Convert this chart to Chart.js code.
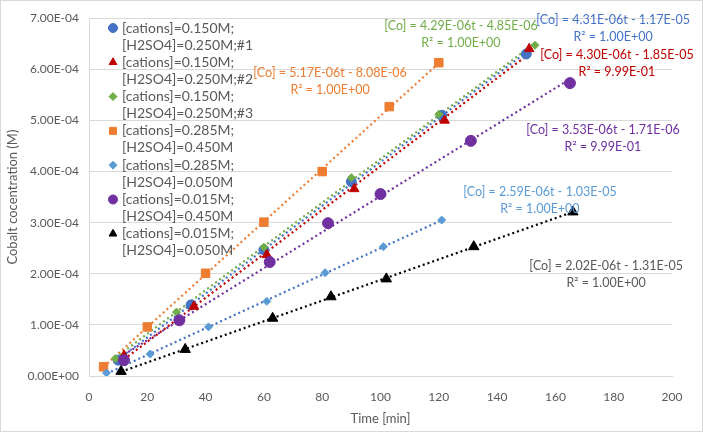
<!DOCTYPE html>
<html>
<head>
<meta charset="utf-8">
<script src="https://cdn.jsdelivr.net/npm/chart.js@4.4.1/dist/chart.umd.min.js"></script>
<style>
  html, body { margin: 0; padding: 0; background: #fff; }
  #wrap { width: 701px; height: 430px; border: 1px solid #d9d9d9; }
</style>
</head>
<body>
<div id="wrap"><canvas id="cobaltChart" width="701" height="430"></canvas></div>
<script>
// series names (two lines each, as in the legend)
var seriesNames = [
  ["[cations]=0.150M;", "[H2SO4]=0.250M;#1"],
  ["[cations]=0.150M;", "[H2SO4]=0.250M;#2"],
  ["[cations]=0.150M;", "[H2SO4]=0.250M;#3"],
  ["[cations]=0.285M;", "[H2SO4]=0.450M"],
  ["[cations]=0.285M;", "[H2SO4]=0.050M"],
  ["[cations]=0.015M;", "[H2SO4]=0.450M"],
  ["[cations]=0.015M;", "[H2SO4]=0.050M"]
];

// time [min] and cobalt concentration [M] for each run
var t1 = [10, 35, 60, 90, 121, 150];
var c1 = [3.1e-5, 1.39e-4, 2.47e-4, 3.80e-4, 5.10e-4, 6.30e-4];
var t2 = [12, 36, 61, 91, 122, 151];
var c2 = [4.0e-5, 1.36e-4, 2.37e-4, 3.66e-4, 5.00e-4, 6.40e-4];
var t3 = [9, 30, 60, 90, 120, 153];
var c3 = [3.4e-5, 1.25e-4, 2.52e-4, 3.88e-4, 5.12e-4, 6.47e-4];
var t4 = [5, 20, 40, 60, 80, 103, 120];
var c4 = [1.8e-5, 9.6e-5, 2.01e-4, 3.01e-4, 4.00e-4, 5.27e-4, 6.13e-4];
var t5 = [6, 21, 41, 61, 81, 101, 121];
var c5 = [6e-6, 4.3e-5, 9.6e-5, 1.46e-4, 2.02e-4, 2.53e-4, 3.05e-4];
var t6 = [12, 31, 62, 82, 100, 131, 165];
var c6 = [3.1e-5, 1.09e-4, 2.23e-4, 2.99e-4, 3.56e-4, 4.60e-4, 5.73e-4];
var t7 = [11, 33, 63, 83, 102, 132, 166];
var c7 = [9e-6, 5.2e-5, 1.13e-4, 1.55e-4, 1.90e-4, 2.53e-4, 3.21e-4];

// trendline equations as printed on the chart
var eqLines = [
  ["[Co] = 4.31E-06t - 1.17E-05", "R\u00b2 = 1.00E+00"],
  ["[Co] = 4.30E-06t - 1.85E-05", "R\u00b2 = 9.99E-01"],
  ["[Co] = 4.29E-06t - 4.85E-06", "R\u00b2 = 1.00E+00"],
  ["[Co] = 5.17E-06t - 8.08E-06", "R\u00b2 = 1.00E+00"],
  ["[Co] = 2.59E-06t - 1.03E-05", "R\u00b2 = 1.00E+00"],
  ["[Co] = 3.53E-06t - 1.71E-06", "R\u00b2 = 9.99E-01"],
  ["[Co] = 2.02E-06t - 1.31E-05", "R\u00b2 = 1.00E+00"]
];
// where each equation sits (data coords of the first line's centre)
var eqAnchor = [[179.8, 6.96e-4], [181.1, 6.28e-4], [127.6, 6.84e-4], [82.7, 5.93e-4],
                [154.7, 3.60e-4], [176.3, 4.82e-4], [177.4, 2.16e-4]];

var xTicks = [0, 20, 40, 60, 80, 100, 120, 140, 160, 180, 200];

var times = [t1, t2, t3, t4, t5, t6, t7];
var concs = [c1, c2, c3, c4, c5, c6, c7];
var colors = ["#4472C4", "#C00000", "#70AD47", "#ED7D31", "#5B9BD5", "#7030A0", "#000000"];
var lineColors = ["#4472C4", "#C00000", "#70AD47", "#ED7D31", "#4472C4", "#7030A0", "#000000"];
var textColors = ["#4472C4", "#C00000", "#70AD47", "#ED7D31", "#5B9BD5", "#7030A0", "#595959"];
var markers = ["circle", "triangle", "rectRot", "rect", "rectRot", "circle", "triangle"];
var sizes = [5, 5.5, 4, 6, 4, 5.5, 6];

function pts(ts, cs) {
  return ts.map(function (t, i) { return { x: t, y: cs[i] }; });
}

// least squares fit, drawn from first to last time
function trend(ts, cs) {
  var n = ts.length, sx = 0, sy = 0, sxx = 0, sxy = 0;
  for (var i = 0; i < n; i++) {
    sx += ts[i]; sy += cs[i]; sxx += ts[i] * ts[i]; sxy += ts[i] * cs[i];
  }
  var m = (n * sxy - sx * sy) / (n * sxx - sx * sx);
  var b = (sy - m * sx) / n;
  var a = ts[0], z = ts[n - 1];
  return [{ x: a, y: m * a + b }, { x: z, y: m * z + b }];
}

function expLabel(v) {
  var s = Number(v).toExponential(2).toUpperCase();
  var parts = s.split("E");
  var e = parseInt(parts[1], 10);
  var sign = e < 0 ? "-" : "+";
  var ae = Math.abs(e);
  return parts[0] + "E" + sign + (ae < 10 ? "0" + ae : ae);
}

var datasets = [];
for (var k = 0; k < 7; k++) {
  datasets.push({
    label: "trend" + k,
    data: trend(times[k], concs[k]),
    showLine: true,
    borderColor: lineColors[k],
    borderWidth: 2.2,
    borderDash: [2, 3],
    pointRadius: 0,
    order: 10
  });
}
for (var k = 0; k < 7; k++) {
  datasets.push({
    label: seriesNames[k].join(" "),
    data: pts(times[k], concs[k]),
    pointStyle: markers[k],
    pointRadius: sizes[k],
    pointHoverRadius: sizes[k],
    backgroundColor: colors[k],
    borderColor: colors[k],
    borderWidth: 1,
    showLine: false,
    order: 7 - k
  });
}

var FONT = "Lato, 'Open Sans', sans-serif";

var overlay = {
  id: "overlay",
  afterDatasetsDraw: function (chart) {
    var ctx = chart.ctx;
    var xs = chart.scales.x, ys = chart.scales.y;
    ctx.save();
    ctx.font = "12.5px " + FONT;
    ctx.textBaseline = "middle";
    // equations
    ctx.textAlign = "center";
    for (var i = 0; i < 7; i++) {
      var px = xs.getPixelForValue(eqAnchor[i][0]);
      var py = ys.getPixelForValue(eqAnchor[i][1]);
      ctx.fillStyle = textColors[i];
      ctx.fillText(eqLines[i][0], px, py);
      ctx.fillText(eqLines[i][1], px, py + 17);
    }
    // legend, inside the plot at top left
    ctx.textAlign = "left";
    ctx.font = "14px " + FONT;
    var lx = chart.chartArea.left + 24, ly = 27;
    for (var j = 0; j < 7; j++) {
      var y0 = ly + j * 34.3;
      var r = markers[j] === "rect" ? 5 : (markers[j] === "rectRot" ? 4 : 4.5);
      ctx.fillStyle = colors[j];
      ctx.strokeStyle = colors[j];
      Chart.helpers.drawPoint(ctx, { pointStyle: markers[j], radius: r, borderWidth: 1 }, lx, y0);
      ctx.fillStyle = "#595959";
      ctx.fillText(seriesNames[j][0], lx + 9, y0);
      ctx.fillText(seriesNames[j][1], lx + 9, y0 + 17);
    }
    ctx.restore();
  }
};

var ctx = document.getElementById("cobaltChart").getContext("2d");
var cobaltChart = new Chart(ctx, {
  type: "scatter",
  data: { datasets: datasets },
  options: {
    responsive: false,
    animation: false,
    layout: { padding: { top: 15, right: 30, left: 0, bottom: 0 } },
    plugins: { legend: { display: false }, tooltip: { enabled: false } },
    scales: {
      x: {
        type: "linear",
        min: 0,
        max: 200,
        afterBuildTicks: function (s) { s.ticks = xTicks.map(function (v) { return { value: v }; }); },
        afterFit: function (s) { s.height = 55; },
        grid: { display: false },
        border: { display: true, color: "#d9d9d9" },
        ticks: { color: "#595959", font: { size: 12, family: FONT }, padding: 6 },
        title: { display: true, text: "Time [min]", color: "#595959", font: { size: 13, family: FONT }, padding: { top: 2 } }
      },
      y: {
        min: 0,
        max: 7e-4,
        afterFit: function (s) { s.width = 88; },
        ticks: {
          stepSize: 1e-4,
          color: "#595959",
          font: { size: 12, family: FONT },
          padding: 10,
          callback: function (v) { return expLabel(v); }
        },
        grid: { color: "#d9d9d9", drawTicks: false },
        border: { display: true, color: "#d9d9d9" },
        title: { display: true, text: "Cobalt cocentration (M)", color: "#595959", font: { size: 13, family: FONT } }
      }
    }
  },
  plugins: [overlay]
});
</script>
</body>
</html>
